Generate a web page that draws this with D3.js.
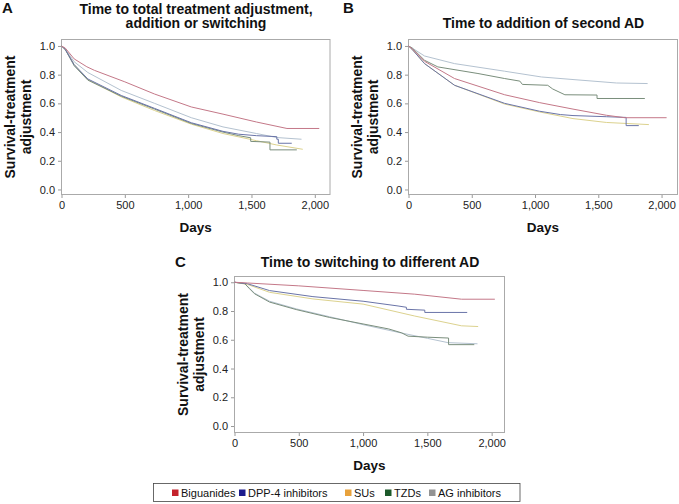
<!DOCTYPE html>
<html><head><meta charset="utf-8">
<script src="https://cdn.jsdelivr.net/npm/d3@7"></script>
<style>body{margin:0;background:#fff}svg{display:block;font-family:"Liberation Sans",Arial,sans-serif}</style>
</head><body><svg id="c" width="679" height="504"></svg>
<script>
// ---- data ----
const seriesNames = ["Biguanides","DPP-4 inhibitors","SUs","TZDs","AG inhibitors"];
const lineColors = ["#c47888","#6a74a8","#dcd28e","#7a8e7c","#b4c2d0"];
const legendColors = ["#c4222c","#1c1c8e","#e8a23c","#1c5a2a","#939393"];
const xTicks = [0,500,1000,1500,2000];
const yTicks = [0,0.2,0.4,0.6,0.8,1.0];
const titles = [["Time to total treatment adjustment,","addition or switching"],["Time to addition of second AD"],["Time to switching to different AD"]];
const panelLetters = ["A","B","C"];

// Panel A: time to total treatment adjustment
const A_Biguanides = [[0,1],[30,0.985],[100,0.91],[200,0.855],[260,0.83],[500,0.75],[735,0.665],[1025,0.575],[1275,0.525],[1540,0.47],[1780,0.425],[2035,0.425]];
const A_DPP4 = [[0,1],[30,0.975],[100,0.87],[208,0.77],[472,0.655],[735,0.565],[1025,0.465],[1275,0.405],[1400,0.385],[1539,0.375],[1700,0.368],[1700,0.35],[1712,0.35],[1712,0.322],[1818,0.322]];
const A_SUs = [[0,1],[30,0.975],[100,0.87],[208,0.765],[472,0.645],[735,0.55],[1025,0.455],[1275,0.39],[1539,0.34],[1700,0.31],[1905,0.28]];
const A_TZDs = [[0,1],[30,0.975],[100,0.862],[208,0.762],[472,0.65],[735,0.56],[1025,0.46],[1275,0.4],[1400,0.375],[1494,0.36],[1494,0.335],[1646,0.33],[1646,0.276],[1858,0.276]];
const A_AG = [[0,1],[30,0.98],[100,0.89],[208,0.815],[472,0.69],[735,0.6],[1025,0.5],[1275,0.436],[1539,0.39],[1700,0.362],[1895,0.35]];

// Panel B: time to addition of second AD
const B_Biguanides = [[0,1],[30,0.98],[127,0.893],[364,0.773],[760,0.66],[1037,0.605],[1300,0.56],[1564,0.517],[1709,0.5],[2040,0.5]];
const B_DPP4 = [[0,1],[30,0.975],[127,0.877],[364,0.726],[760,0.6],[1037,0.545],[1200,0.522],[1300,0.515],[1564,0.507],[1720,0.502],[1720,0.445],[1820,0.445]];
const B_SUs = [[0,1],[30,0.975],[127,0.877],[364,0.726],[760,0.595],[1037,0.54],[1300,0.494],[1564,0.467],[1900,0.452]];
const B_TZDs = [[0,1],[30,0.985],[127,0.9],[232,0.854],[549,0.808],[760,0.773],[880,0.755],[900,0.732],[1100,0.726],[1140,0.7],[1236,0.66],[1490,0.658],[1490,0.634],[1868,0.634]];
const B_AG = [[0,1],[30,0.985],[127,0.93],[364,0.877],[760,0.824],[1050,0.784],[1300,0.766],[1644,0.742],[1890,0.738]];

// Panel C: time to switching to different AD
const C_Biguanides = [[0,1],[100,0.995],[500,0.975],[1000,0.943],[1402,0.917],[1766,0.882],[2025,0.882]];
const C_DPP4 = [[0,1],[100,0.99],[273,0.942],[610,0.9],[1000,0.868],[1272,0.835],[1337,0.826],[1337,0.812],[1480,0.806],[1480,0.79],[1810,0.79]];
const C_SUs = [[0,1],[100,0.985],[273,0.93],[610,0.884],[1000,0.848],[1402,0.765],[1766,0.697],[1895,0.692]];
const C_TZDs = [[0,1],[80,0.99],[117,0.955],[156,0.92],[273,0.862],[480,0.81],[740,0.755],[1000,0.71],[1200,0.675],[1300,0.648],[1350,0.625],[1500,0.618],[1665,0.612],[1665,0.566],[1865,0.566]];
const C_AG = [[0,1],[80,0.99],[117,0.958],[156,0.924],[273,0.868],[480,0.815],[740,0.76],[1000,0.705],[1272,0.652],[1500,0.61],[1660,0.58],[1890,0.572]];

const panelData = [
  [A_Biguanides,A_DPP4,A_SUs,A_TZDs,A_AG],
  [B_Biguanides,B_DPP4,B_SUs,B_TZDs,B_AG],
  [C_Biguanides,C_DPP4,C_SUs,C_TZDs,C_AG]
];

// ---- layout ----
const panels = [
  {left:61.5, top:39.5, w:268.5, h:155, xmax:2120, ydom:[-0.035,1.045], letterX:2, letterY:13, titleX:196, titleY:[13.5,28]},
  {left:408.5, top:39.5, w:269, h:155, xmax:2126, ydom:[-0.035,1.045], letterX:343, letterY:13, titleX:543.5, titleY:[28]},
  {left:234.5, top:276.5, w:270, h:156, xmax:2100, ydom:[-0.045,1.04], letterX:175, letterY:266.5, titleX:370, titleY:[266.5]}
];

const svg = d3.select("#c");

panels.forEach((p,i)=>{
  const g = svg.append("g");
  const x = d3.scaleLinear().domain([0,p.xmax]).range([p.left,p.left+p.w]);
  const y = d3.scaleLinear().domain(p.ydom).range([p.top+p.h,p.top]);

  const ax = g.append("g").attr("transform",`translate(${p.left},0)`)
    .call(d3.axisLeft(y).tickValues(yTicks).tickFormat(d3.format(".1f")).tickSize(3.5).tickPadding(3));
  const bx = g.append("g").attr("transform",`translate(0,${p.top+p.h})`)
    .call(d3.axisBottom(x).tickValues(xTicks).tickFormat(d3.format(",")).tickSize(3.5).tickPadding(3.5));
  [ax,bx].forEach(a=>{
    a.select(".domain").remove();
    a.selectAll(".tick line").attr("stroke","#999");
    a.selectAll(".tick text").attr("fill","#222").style("font-size","11px").style("font-family","'Liberation Sans',Arial,sans-serif");
  });

  g.append("rect").attr("x",p.left).attr("y",p.top).attr("width",p.w).attr("height",p.h)
    .attr("fill","none").attr("stroke","#aaa").attr("stroke-width",1);

  const line = d3.line().x(d=>x(d[0])).y(d=>y(d[1]));
  const order = [4,2,3,1,0];
  order.forEach(k=>{
    g.append("path").datum(panelData[i][k]).attr("d",line)
      .attr("fill","none").attr("stroke",lineColors[k]).attr("stroke-width",1);
  });

  titles[i].forEach((t,j)=>{
    g.append("text").attr("x",p.titleX).attr("y",p.titleY[j]).attr("text-anchor","middle")
      .style("font-size","14px").style("font-weight","bold").attr("fill","#111").text(t);
  });
  g.append("text").attr("x",p.letterX).attr("y",p.letterY)
    .style("font-size","15px").style("font-weight","bold").attr("fill","#111").text(panelLetters[i]);

  const cy = p.top + p.h/2;
  [["Survival-treatment",-46.5],["adjustment",-31]].forEach(([t,off])=>{
    g.append("text").attr("transform",`translate(${p.left+off},${cy}) rotate(-90)`)
      .attr("text-anchor","middle").style("font-size","14px").style("font-weight","bold").attr("fill","#111").text(t);
  });
  g.append("text").attr("x",p.left+p.w/2).attr("y",p.top+p.h+37.5).attr("text-anchor","middle")
    .style("font-size","13.5px").style("font-weight","bold").attr("fill","#111").text("Days");
});

// ---- legend ----
const lg = svg.append("g");
lg.append("rect").attr("x",153.5).attr("y",483.5).attr("width",366.5).attr("height",18)
  .attr("fill","none").attr("stroke","#444").attr("stroke-width",0.8);
const legX = [172,239,345,385,429];
seriesNames.forEach((n,k)=>{
  lg.append("rect").attr("x",legX[k]).attr("y",489.5).attr("width",6.5).attr("height",6.5).attr("fill",legendColors[k]);
  lg.append("text").attr("x",legX[k]+9).attr("y",496.5).style("font-size","11px").attr("fill","#111").text(n);
});
</script></body></html>
